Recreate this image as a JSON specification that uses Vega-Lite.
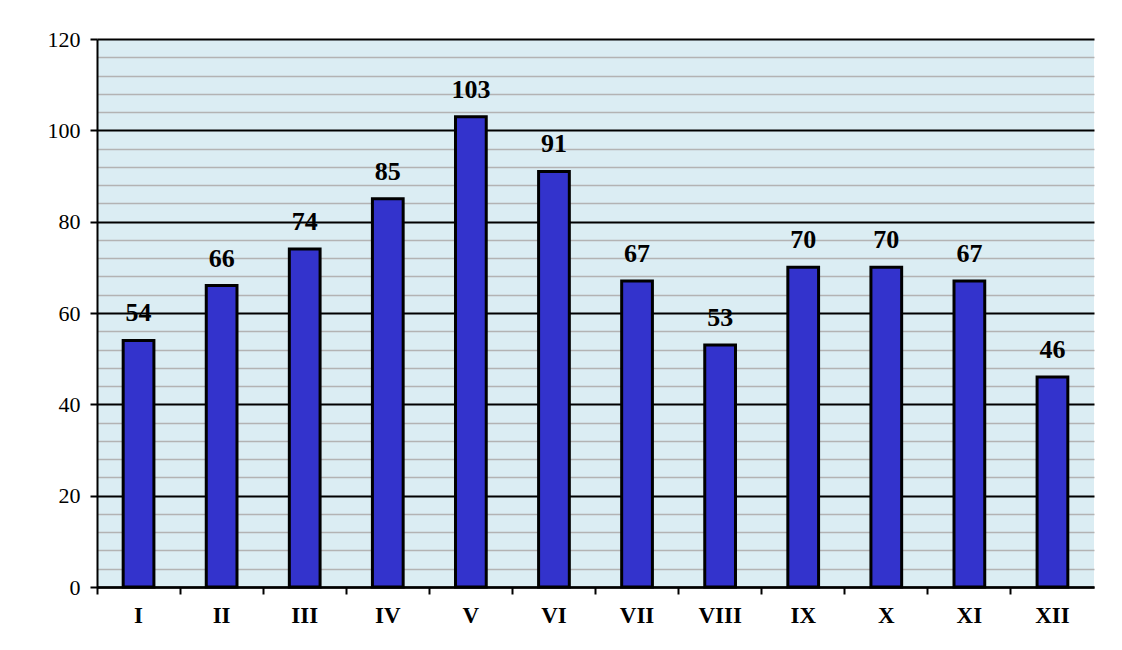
{
  "$schema": "https://vega.github.io/schema/vega-lite/v6.json",
  "width": 997,
  "height": 548,
  "autosize": "none",
  "padding": {"left": 97, "top": 39, "right": 28, "bottom": 63},
  "background": "white",
  "data": {"values": [
    {"m": "I", "v": 54}, {"m": "II", "v": 66}, {"m": "III", "v": 74}, {"m": "IV", "v": 85},
    {"m": "V", "v": 103}, {"m": "VI", "v": 91}, {"m": "VII", "v": 67}, {"m": "VIII", "v": 53},
    {"m": "IX", "v": 70}, {"m": "X", "v": 70}, {"m": "XI", "v": 67}, {"m": "XII", "v": 46}
  ]},
  "config": {
    "view": {"fill": "#dbedf3", "stroke": null},
    "font": "Liberation Serif"
  },
  "encoding": {
    "x": {"field": "m", "type": "ordinal", "sort": null,
      "scale": {"paddingInner": 0, "paddingOuter": 0},
      "axis": {"title": null, "labelAngle": 0, "bandPosition": 0,
        "labelFont": "Liberation Serif", "labelFontWeight": "bold", "labelFontSize": 23,
        "labelColor": "black", "labelPadding": 10, "tickSize": 7, "tickColor": "black", "tickWidth": 2,
        "domainColor": "black", "domainWidth": 2.5, "grid": false}},
    "y": {"field": "v", "type": "quantitative",
      "scale": {"domain": [0, 120], "nice": false},
      "axis": {"title": null, "values": [0,4,8,12,16,20,24,28,32,36,40,44,48,52,56,60,64,68,72,76,80,84,88,92,96,100,104,108,112,116,120],
        "labelExpr": "datum.value % 20 === 0 ? datum.label : ''",
        "labelFont": "Liberation Serif", "labelFontSize": 22, "labelColor": "black", "labelPadding": 10,
        "tickSize": 7, "tickColor": "black", "tickWidth": 2,
        "tickOpacity": {"condition": {"test": "datum.value % 20 === 0", "value": 1}, "value": 0},
        "grid": true,
        "gridColor": {"condition": {"test": "datum.value % 20 === 0", "value": "black"}, "value": "#b3b3b3"},
        "gridWidth": {"condition": {"test": "datum.value % 20 === 0", "value": 2}, "value": 1.5},
        "domainColor": "black", "domainWidth": 2}}
  },
  "layer": [
    {"mark": {"type": "bar", "width": {"band": 0.37}, "fill": "#3333cc", "stroke": "black", "strokeWidth": 3}},
    {"mark": {"type": "text", "baseline": "alphabetic", "dy": -19, "font": "Liberation Serif", "fontWeight": "bold", "fontSize": 26, "color": "black"},
     "encoding": {"text": {"field": "v", "type": "quantitative"}}}
  ]
}
